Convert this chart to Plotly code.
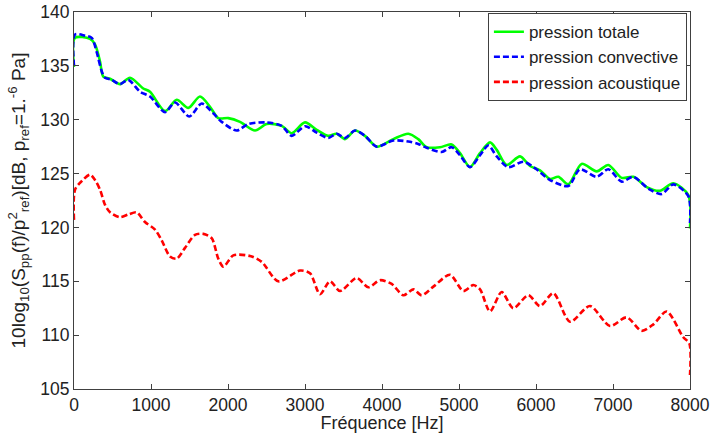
import plotly.graph_objects as go

# pression totale (green, solid)
f_tot = [0, 13, 208, 273, 338, 380, 468, 597, 727, 900, 987, 1182, 1334, 1484, 1636, 1766,
         1874, 2004, 2156, 2351, 2503, 2697, 2827, 3000, 3152, 3303, 3411, 3519, 3649, 3779,
         3931, 4147, 4342, 4471, 4580, 4753, 4905, 5013, 5143, 5273, 5403, 5490, 5619, 5792,
         5922, 6052, 6182, 6290, 6420, 6593, 6788, 6939, 7113, 7264, 7438, 7610, 7783, 7978, 8000]
p_tot = [134.9, 137.6, 137.5, 137.0, 135.4, 134.0, 133.8, 133.3, 133.9, 132.9, 132.6, 130.8,
         131.85, 131.1, 132.15, 131.2, 130.15, 130.15, 129.8, 129.0, 129.6, 129.43, 128.75,
         129.75, 129.06, 128.5, 128.7, 128.2, 129.0, 128.5, 127.5, 128.2, 128.7, 128.2, 127.45,
         127.45, 127.7, 126.9, 125.6, 126.9, 127.9, 127.2, 125.8, 126.6, 125.7, 125.3, 124.5,
         124.7, 124.0, 125.9, 125.2, 125.8, 124.6, 124.7, 123.75, 123.4, 124.1, 123.0, 119.9]

# pression convective (blue, dashed)
f_conv = [0, 13, 143, 230, 294, 360, 403, 489, 597, 705, 857, 987, 1182, 1312, 1497, 1658,
          1809, 1918, 2113, 2264, 2503, 2697, 2827, 3000, 3152, 3303, 3411, 3519, 3649, 3779,
          3931, 4147, 4342, 4471, 4580, 4775, 4905, 5013, 5143, 5273, 5381, 5490, 5640, 5835,
          5987, 6182, 6420, 6571, 6788, 6939, 7113, 7264, 7459, 7632, 7783, 7978, 8000]
p_conv = [135.0, 137.9, 137.8, 137.6, 136.3, 134.5, 133.9, 133.7, 133.3, 133.7, 132.6, 132.15,
          130.7, 131.6, 130.3, 131.5, 130.6, 129.8, 129.0, 129.6, 129.75, 129.43, 128.5, 129.4,
          128.8, 128.3, 128.7, 128.3, 129.0, 128.5, 127.5, 128.07, 127.97, 127.75, 127.4, 127.0,
          127.45, 126.7, 125.6, 126.7, 127.6, 126.6, 125.6, 126.1, 125.5, 124.4, 123.85, 125.4,
          124.7, 125.4, 124.25, 124.7, 123.6, 123.1, 124.0, 122.9, 120.4]

# pression acoustique (red, dashed)
f_ac = [0, 13, 100, 208, 273, 338, 403, 468, 597, 705, 814, 922, 1052, 1139, 1247, 1334,
        1442, 1571, 1679, 1788, 1874, 1940, 2069, 2286, 2438, 2653, 2935, 3065, 3195, 3325,
        3455, 3671, 3822, 3974, 4126, 4277, 4407, 4515, 4667, 4883, 5056, 5186, 5273, 5403,
        5554, 5705, 5900, 6052, 6225, 6442, 6701, 6961, 7177, 7372, 7524, 7697, 7913, 7991, 8000]
p_ac = [120.7, 123.5, 124.3, 124.9, 124.4, 123.5, 122.1, 121.4, 120.95, 121.2, 121.4, 120.5,
        119.8, 118.8, 117.3, 117.1, 118.1, 119.3, 119.4, 119.0, 117.1, 116.35, 117.4, 117.35,
        116.8, 115.0, 116.0, 115.75, 113.8, 115.0, 114.1, 115.3, 114.45, 115.1, 114.75, 113.7,
        114.25, 113.7, 114.5, 115.6, 114.1, 114.65, 114.25, 112.2, 114.0, 112.5, 113.7, 112.7,
        113.9, 111.25, 112.7, 110.85, 111.65, 110.4, 111.0, 112.2, 109.8, 109.25, 106.3]

FONT = 'Liberation Sans, Arial, sans-serif'
AX = '#404040'
TXT = '#222'

fig = go.Figure()
fig.add_trace(go.Scatter(x=f_tot, y=p_tot, mode='lines', name='pression totale',
                         line=dict(color='#00ff00', width=2.6, shape='spline', smoothing=0.8)))
fig.add_trace(go.Scatter(x=f_conv, y=p_conv, mode='lines', name='pression convective',
                         line=dict(color='#0000ff', width=2.6, dash='6px,3px',
                                   shape='spline', smoothing=0.8)))
fig.add_trace(go.Scatter(x=f_ac, y=p_ac, mode='lines', name='pression acoustique',
                         line=dict(color='#ff0000', width=2.6, dash='6px,3px',
                                   shape='spline', smoothing=0.8)))

axis_style = dict(showline=True, linecolor=AX, linewidth=1, mirror='ticks',
                  ticks='inside', ticklen=5, tickcolor=AX, showgrid=False, zeroline=False,
                  automargin=False,
                  tickfont=dict(family=FONT, size=17.5, color=TXT))
fig.update_xaxes(range=[0, 8000], dtick=1000,
                 title=dict(text='Fréquence [Hz]', font=dict(family=FONT, size=18, color=TXT),
                            standoff=0),
                 **axis_style)
fig.update_yaxes(range=[105, 140], dtick=5,
                 title=dict(text='10log<sub>10</sub>(S<sub>pp</sub>(f)/p<sup>2</sup><sub>ref</sub>)'
                                 '[dB, p<sub>ref</sub>=1.<sup>-6</sup> Pa]',
                            font=dict(family=FONT, size=19, color=TXT), standoff=9),
                 **axis_style)
fig.update_layout(
    width=711, height=433,
    margin=dict(l=74, r=21, t=12, b=44, autoexpand=False),
    paper_bgcolor='white', plot_bgcolor='white',
    showlegend=True,
    legend=dict(x=0.995, y=0.997, xanchor='right', yanchor='top',
                bgcolor='white', bordercolor=AX, borderwidth=1,
                font=dict(family=FONT, size=17, color=TXT),
                itemwidth=30, tracegroupgap=0),
)
# drop the default 8px body margin so the figure fills the window exactly
fig.write_html("out.html", config={'displayModeBar': False},
               post_script="document.body.style.margin='0';document.body.style.overflow='hidden';")
